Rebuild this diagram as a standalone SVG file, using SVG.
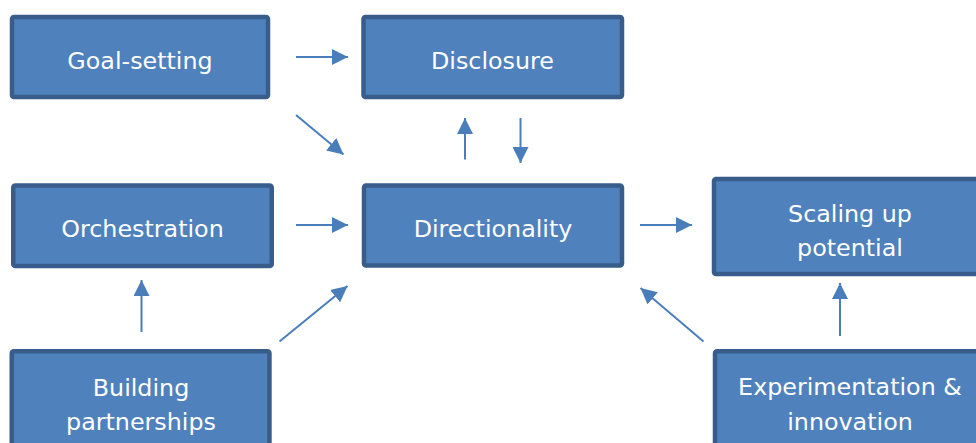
<svg xmlns="http://www.w3.org/2000/svg" width="976" height="443" viewBox="0 0 976 443">
<defs>
<style>
.box{fill:#4F81BD;stroke:#385D8A;stroke-width:4.5}
.lbl{font-family:"DejaVu Sans",Verdana,sans-serif;font-size:23.8px;fill:#FFFFFF;text-anchor:middle}
.arr{stroke:#4A7EBB;stroke-width:2;fill:none;marker-end:url(#ah)}
</style>
<marker id="ah" viewBox="0 0 16 16" markerWidth="16" markerHeight="16" refX="16" refY="8" orient="auto" markerUnits="userSpaceOnUse">
<path d="M0,0 L16,8 L0,16 z" fill="#4A7EBB"/>
</marker>
</defs>
<rect width="976" height="443" fill="#FFFFFF"/>
<g id="goal-setting">
<rect class="box" x="12" y="17" width="256" height="80" rx="2"/>
<text class="lbl" x="140" y="69">Goal-setting</text>
</g>
<g id="disclosure">
<rect class="box" x="363.5" y="17" width="258.5" height="80" rx="2"/>
<text class="lbl" x="492.5" y="69">Disclosure</text>
</g>
<g id="orchestration">
<rect class="box" x="13.25" y="185.5" width="258.5" height="80.5" rx="2"/>
<text class="lbl" x="142.5" y="237">Orchestration</text>
</g>
<g id="directionality">
<rect class="box" x="364" y="185.5" width="258" height="80" rx="2"/>
<text class="lbl" x="493" y="237">Directionality</text>
</g>
<g id="scaling-up">
<rect class="box" x="714" y="179" width="290" height="95" rx="2"/>
<text class="lbl" x="850" y="222">Scaling up</text>
<text class="lbl" x="850" y="256">potential</text>
</g>
<g id="experimentation">
<rect class="box" x="715" y="351.3" width="290" height="120" rx="2"/>
<text class="lbl" x="850" y="395">Experimentation &amp;</text>
<text class="lbl" x="850" y="430">innovation</text>
</g>
<g id="building-partnerships">
<rect class="box" x="11.75" y="351.3" width="257.7" height="120" rx="2"/>
<text class="lbl" x="141" y="396">Building</text>
<text class="lbl" x="141" y="430">partnerships</text>
</g>
<g id="connectors">
<line class="arr" x1="296" y1="57" x2="348" y2="57"/>
<line class="arr" x1="296" y1="115" x2="343.5" y2="154.5"/>
<line class="arr" x1="465" y1="159.5" x2="465" y2="118"/>
<line class="arr" x1="520.5" y1="118" x2="520.5" y2="163"/>
<line class="arr" x1="296" y1="225" x2="348" y2="225"/>
<line class="arr" x1="279.5" y1="341.5" x2="347.5" y2="286"/>
<line class="arr" x1="141.5" y1="332" x2="141.5" y2="280"/>
<line class="arr" x1="640" y1="225" x2="692" y2="225"/>
<line class="arr" x1="703.5" y1="341.5" x2="640.5" y2="288"/>
<line class="arr" x1="840" y1="336" x2="840" y2="283"/>
</g>
</svg>
